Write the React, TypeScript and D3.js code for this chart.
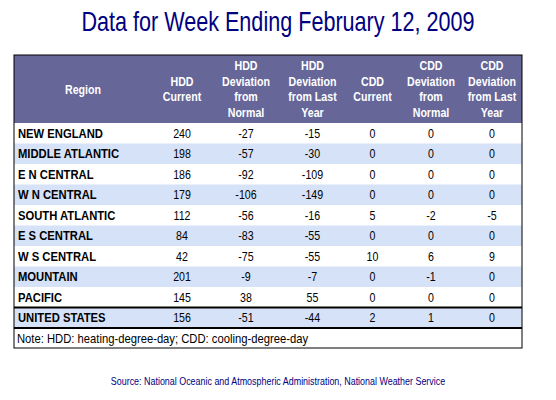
import * as d3 from "d3";

const regions = ["NEW ENGLAND", "MIDDLE ATLANTIC", "E N CENTRAL", "W N CENTRAL", "SOUTH ATLANTIC", "E S CENTRAL", "W S CENTRAL", "MOUNTAIN", "PACIFIC", "UNITED STATES"];
const hddCurrent = [240, 198, 186, 179, 112, 84, 42, 201, 145, 156];
const hddDevNormal = [-27, -57, -92, -106, -56, -83, -75, -9, 38, -51];
const hddDevLastYear = [-15, -30, -109, -149, -16, -55, -55, -7, 55, -44];
const cddCurrent = [0, 0, 0, 0, 5, 0, 10, 0, 0, 2];
const cddDevNormal = [0, 0, 0, 0, -2, 0, 6, -1, 0, 1];
const cddDevLastYear = [0, 0, 0, 0, -5, 0, 9, 0, 0, 0];
const headers = [
  ["Region"],
  ["HDD", "Current"],
  ["HDD", "Deviation", "from", "Normal"],
  ["HDD", "Deviation", "from Last", "Year"],
  ["CDD", "Current"],
  ["CDD", "Deviation", "from", "Normal"],
  ["CDD", "Deviation", "from Last", "Year"],
];

const colEdges = [14, 152, 212, 280, 345, 400, 462, 522];
const font = "'Liberation Sans', Arial, sans-serif";

// horizontally condensed text, anchored at (x, y)
const Narrow = ({ x, y, k, anchor, children, ...rest }: any) => (
  <text transform={`translate(${x},${y}) scale(${k},1)`} textAnchor={anchor} {...rest}>{children}</text>
);

export default function App() {
  const columns = [hddCurrent, hddDevNormal, hddDevLastYear, cddCurrent, cddDevNormal, cddDevLastYear];
  const y = d3.scaleBand<string>().domain(regions).range([123, 328]);
  const left = colEdges[0];
  const right = colEdges[colEdges.length - 1];
  const headTop = 55;
  const usY = y("UNITED STATES")!;
  return (
    <svg width={556} height={400} style={{ position: "absolute", left: 0, top: 0 }} fontFamily={font}>
      <rect width={556} height={400} fill="#fff" />
      <Narrow x={278} y={31} k={0.8} anchor="middle" fontSize={27} fill="#000080">
        Data for Week Ending February 12, 2009
      </Narrow>
      <rect x={left} y={headTop} width={right - left} height={123 - headTop} fill="#666699" />
      {headers.map((lines, c) => {
        const cx = (colEdges[c] + colEdges[c + 1]) / 2;
        const n = lines.length;
        return lines.map((l, i) => (
          <Narrow key={c + "-" + i} x={cx} y={89 + (i - (n - 1) / 2) * 15.5 + 4.5} k={0.85} anchor="middle"
            fontSize={12.5} fontWeight="bold" fill="#fff">{l}</Narrow>
        ));
      })}
      {regions.map((r, i) => (
        <g key={r}>
          <rect x={left} y={y(r)!} width={right - left} height={y.bandwidth()} fill={i % 2 === 1 ? "#d6e2f7" : "#fff"} />
          <Narrow x={left + 4} y={y(r)! + y.bandwidth() / 2 + 4.5} k={0.9} anchor="start" fontSize={12.5} fontWeight="bold" fill="#000">{r}</Narrow>
          {columns.map((col, c) => (
            <Narrow key={c} x={(colEdges[c + 1] + colEdges[c + 2]) / 2} y={y(r)! + y.bandwidth() / 2 + 4.5} k={0.85}
              anchor="middle" fontSize={12.5} fill="#000">{col[i]}</Narrow>
          ))}
        </g>
      ))}
      <line x1={left} x2={right} y1={usY} y2={usY} stroke="#000" strokeWidth={2} />
      <line x1={left} x2={right} y1={328} y2={328} stroke="#000" strokeWidth={2} />
      <rect x={left} y={headTop} width={right - left} height={348 - headTop} fill="none" stroke="#000" strokeWidth={1} />
      <Narrow x={left + 3} y={343} k={0.9} anchor="start" fontSize={12.5} fill="#000">Note: HDD: heating-degree-day; CDD: cooling-degree-day</Narrow>
      <Narrow x={278} y={385} k={0.85} anchor="middle" fontSize={10.5} fill="#000080">
        Source:  National Oceanic and Atmospheric Administration, National Weather Service
      </Narrow>
    </svg>
  );
}
